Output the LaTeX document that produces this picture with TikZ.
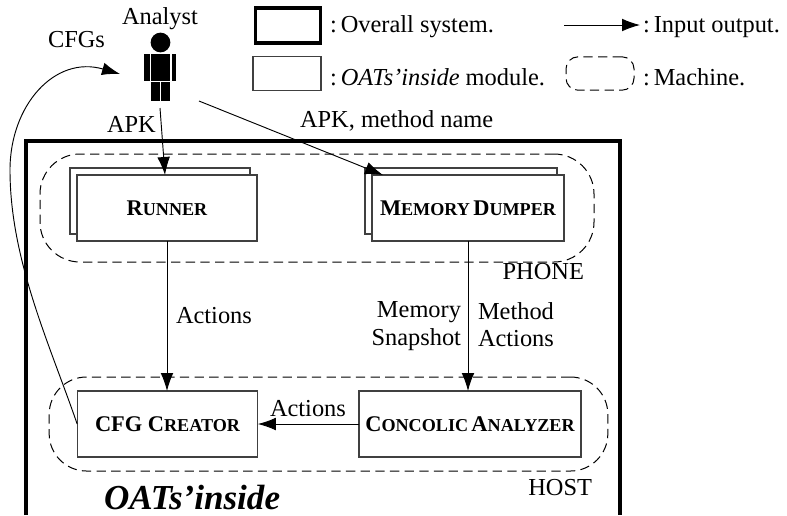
\documentclass[tikz,border=0pt]{standalone}
\usepackage{fontspec}
\setmainfont{Liberation Serif}
\usetikzlibrary{arrows.meta}
\newcommand{\pxfont}[1]{\fontsize{#1}{#1}\selectfont}
\newcommand{\capsb}[2]{{\pxfont{16.8}\bfseries #1{\pxfont{13.6}#2}}}
\tikzset{
  x=0.75pt,y=-0.75pt,
  every node/.style={inner sep=0pt,outer sep=0pt},
  lbl/.style={font=\pxfont{18.3},text=black,anchor=base west},
  modbox/.style={draw=black!75,fill=white,line width=0.8pt,minimum width=135pt,minimum height=49.5pt,anchor=center,align=center},
  sysbox/.style={draw=black,line width=2.4pt},
  machine/.style={draw=black,line width=0.75pt,dash pattern=on 7pt off 4pt,anchor=center},
  flow/.style={draw=black,line width=0.7pt,-{Latex[length=13.5pt,width=9.5pt]}},
  person/.style={fill=black,draw=none}
}
\begin{document}
\begin{tikzpicture}
\useasboundingbox (0,0) rectangle (787,515);
% outer system box, cut by the page bottom
\draw[sysbox] (26,515) -- (26,141) -- (620,141) -- (620,515);
% machines
\node[machine,minimum width=415.5pt,minimum height=81pt,rounded corners=30pt] (phone) at (317,208) {};
\node[machine,minimum width=419pt,minimum height=70.5pt,rounded corners=28pt] (host) at (328.5,424) {};
% modules
\node[modbox,minimum width=135pt] (runnerback) at (160,201) {};
\node[modbox,minimum width=135pt] (runner) at (167,208) {\capsb{R}{UNNER}};
\node[modbox,minimum width=144pt] (dumperback) at (461,201) {};
\node[modbox,minimum width=144pt] (dumper) at (468,208) {\capsb{M}{EMORY} \capsb{D}{UMPER}};
\node[modbox,minimum width=135.5pt] (cfg) at (167.5,424) {\capsb{CFG C}{REATOR}};
\node[modbox,minimum width=166.5pt] (conc) at (470,424) {\capsb{C}{ONCOLIC} \capsb{A}{NALYZER}};
% analyst
\fill[person] (160.5,42.5) circle (7.4pt);
\fill[person] (144,54) rectangle (149.5,81);
\fill[person] (151,54) rectangle (170,81);
\fill[person] (171.5,54) rectangle (176,81);
\fill[person] (151,81.7) rectangle (159.7,101);
\fill[person] (161.3,81.7) rectangle (170,101);
\coordinate (analystS) at (160,108);
\coordinate (analystE) at (199,101);
\coordinate (analystW) at (120,74);
\node[lbl] (tanalyst) at (122,24) {Analyst};
\node[lbl] (tcfgs) at (48,47) {CFGs};
\node[lbl] (tapk) at (107,132) {APK};
\node[lbl] (tapkm) at (300,127) {APK, method name};
% connectors
\draw[flow] (analystS) -- (165,175);
\draw[flow] (analystE) -- (383,175);
\draw[flow] (runner.south) -- (cfg.north -| runner.south);
\draw[flow] (dumper.south) -- (conc.north -| dumper.south);
\draw[flow] (conc.west) -- (cfg.east);
\draw[flow] (cfg.west) .. controls (50,345) and (10,260) .. (10,170) .. controls (10,105) and (55,55) .. (analystW);
% labels
\node[lbl] (tact1) at (176,323) {Actions};
\node[lbl,anchor=base east] (tmem) at (461,317) {Memory};
\node[lbl,anchor=base east] (tsnap) at (461,345) {Snapshot};
\node[lbl] (tmeth) at (478,319) {Method};
\node[lbl] (tact2) at (478,346) {Actions};
\node[lbl] (tact3) at (270,416) {Actions};
\node[lbl,anchor=base east] (tphone) at (584,279) {PHONE};
\node[lbl,anchor=base east] (thost) at (592,495) {HOST};
\node[lbl,font=\pxfont{26.3}\bfseries\itshape] (toats) at (104,509) {OATs’inside};
% legend
\node[draw=black,line width=2.7pt,minimum width=49pt,minimum height=26pt] (legsys) at (288,25.5) {};
\node[draw=black!75,line width=0.8pt,minimum width=51pt,minimum height=25pt] (legmod) at (287,73.5) {};
\node[machine,minimum width=51pt,minimum height=25pt,rounded corners=9pt] (legmach) at (600,73.5) {};
\coordinate (legarrA) at (564,25);
\coordinate (legarrB) at (640,25);
\draw[flow] (legarrA) -- (legarrB);
\node[lbl] (t1) at (330,32) {:\kern3pt Overall system.};
\node[lbl] (t2) at (330,85) {:\kern3pt \textit{OATs’inside} module.};
\node[lbl] (t3) at (643,32) {:\kern3pt Input output.};
\node[lbl] (t4) at (643,85) {:\kern3pt Machine.};
\end{tikzpicture}
\end{document}
